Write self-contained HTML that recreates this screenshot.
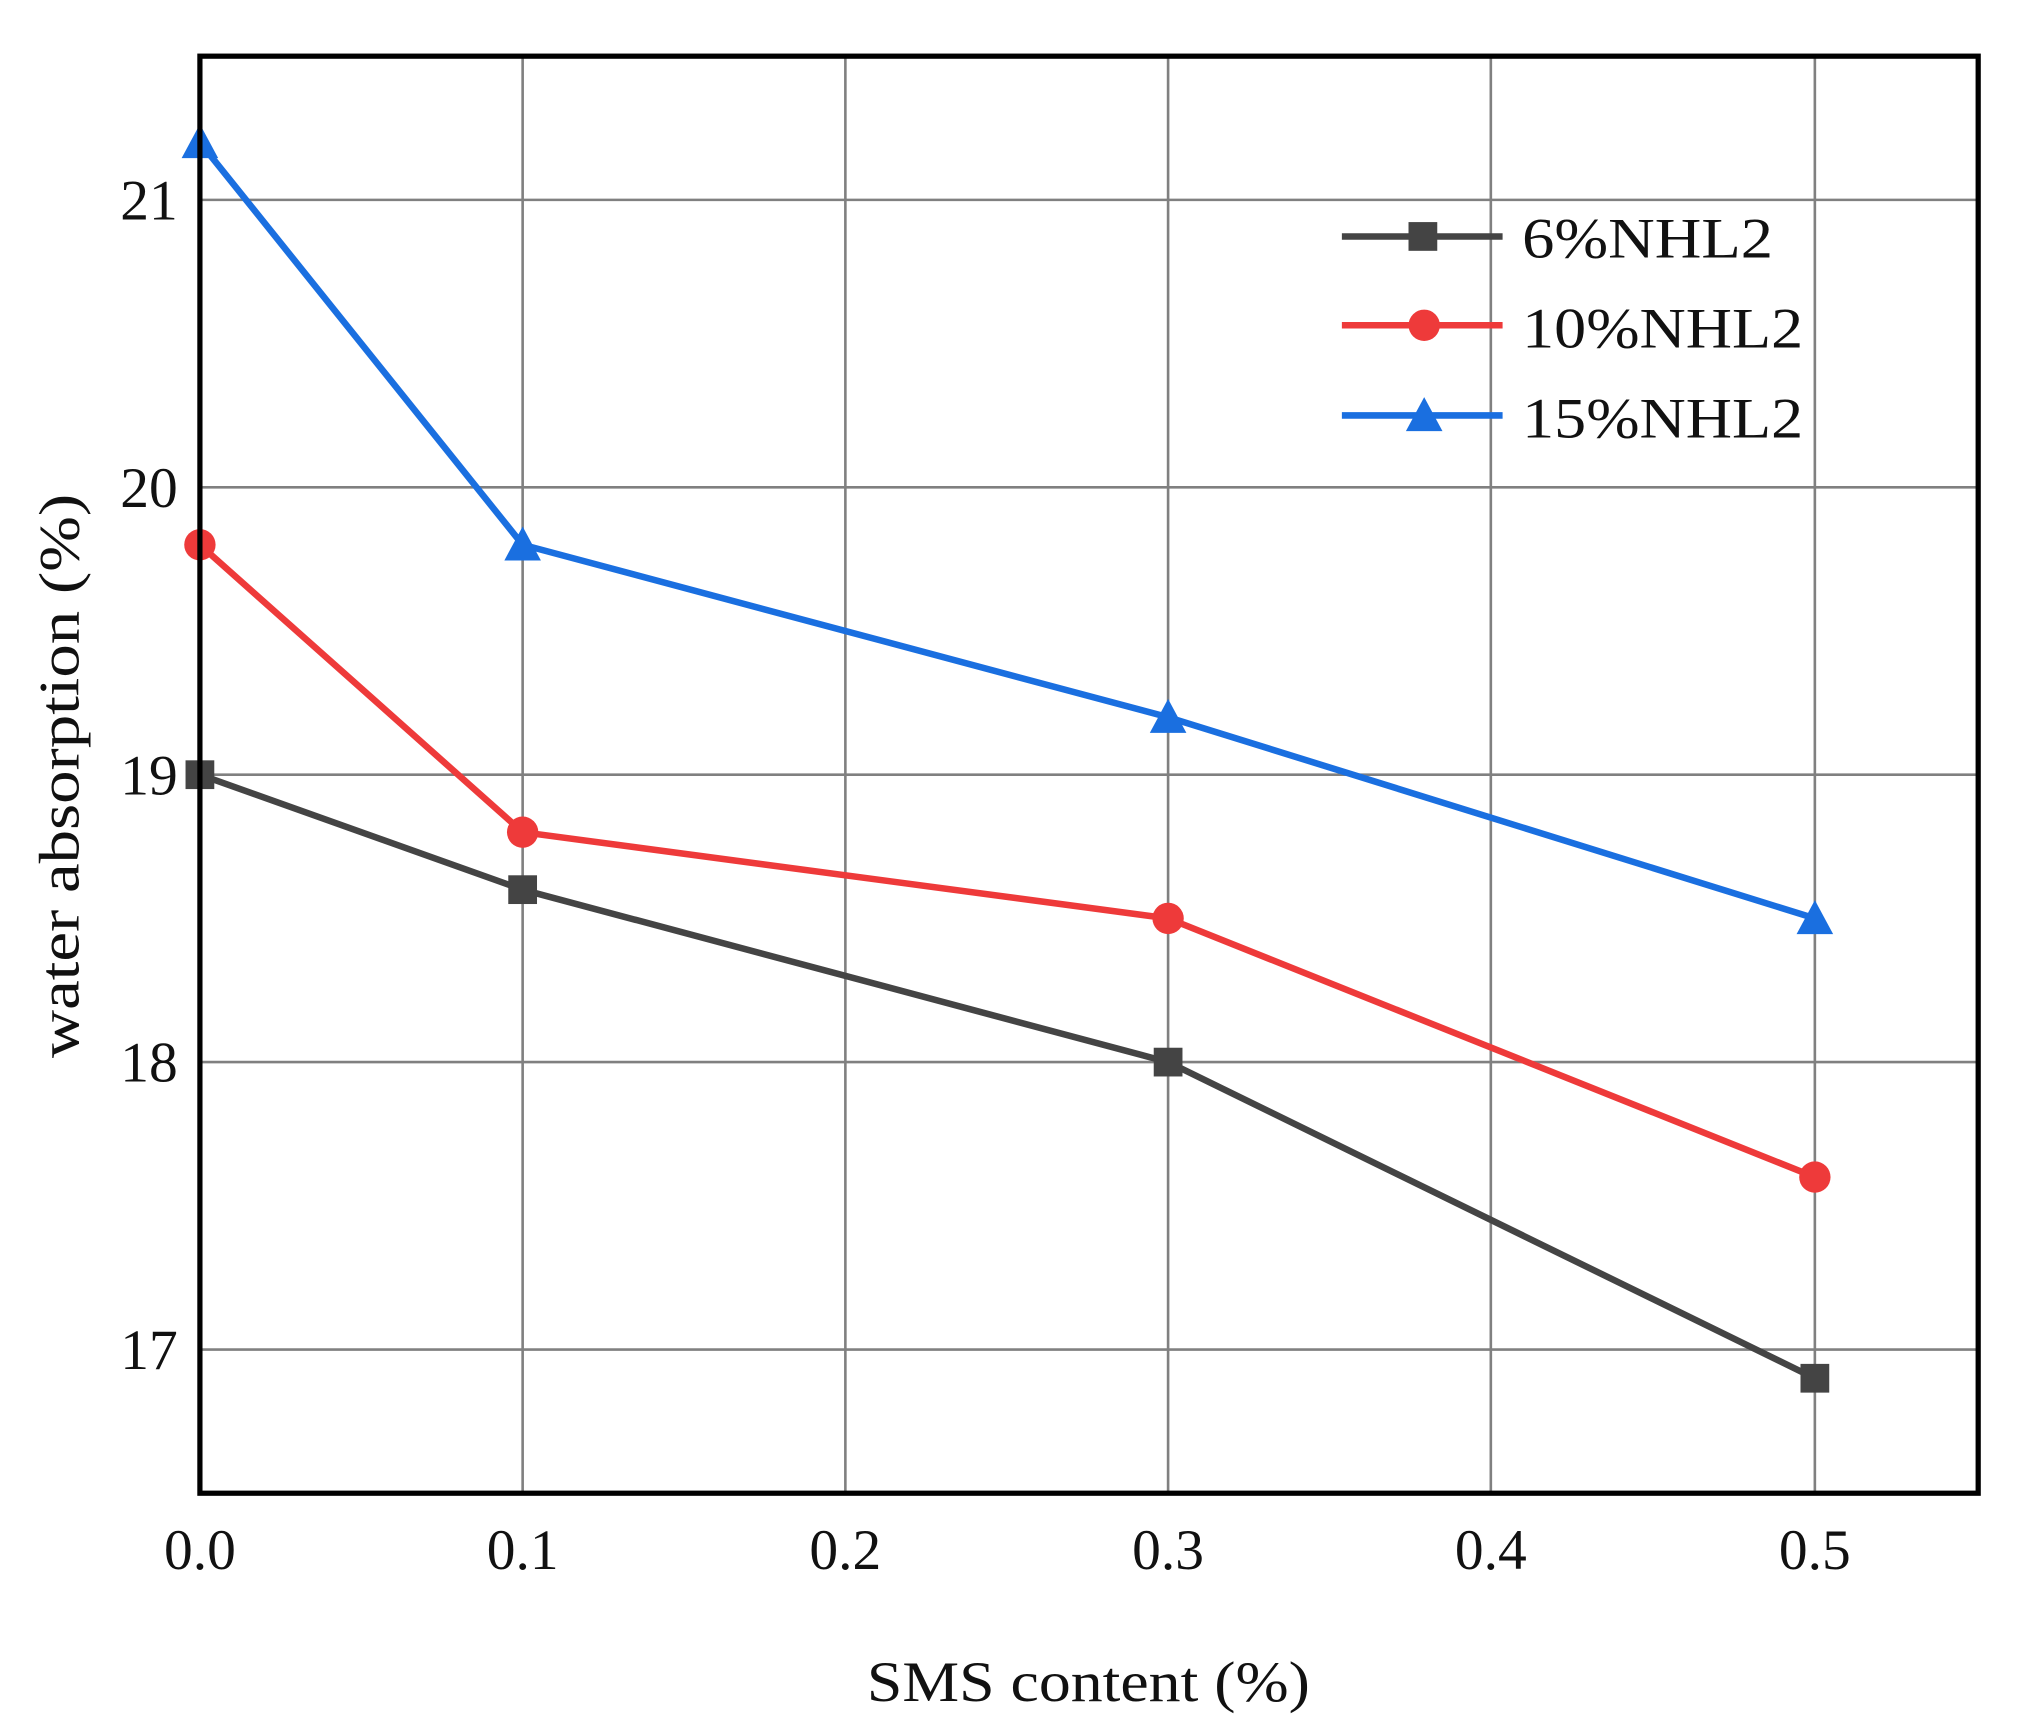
<!DOCTYPE html>
<html><head><meta charset="utf-8"><style>
html,body{margin:0;padding:0;background:#fff;}
svg{display:block;}
text{font-family:"Liberation Serif",serif;fill:#111;}
</style></head><body>
<svg width="2020" height="1714" viewBox="0 0 1546 1312" preserveAspectRatio="none" xmlns="http://www.w3.org/2000/svg">
<rect width="1546" height="1312" fill="#fff"/>
<g stroke="#808080" stroke-width="2">
<line x1="400" y1="43" x2="400" y2="1143"/>
<line x1="647" y1="43" x2="647" y2="1143"/>
<line x1="894" y1="43" x2="894" y2="1143"/>
<line x1="1141" y1="43" x2="1141" y2="1143"/>
<line x1="1389" y1="43" x2="1389" y2="1143"/>
<line x1="153" y1="153" x2="1514" y2="153"/>
<line x1="153" y1="373" x2="1514" y2="373"/>
<line x1="153" y1="593" x2="1514" y2="593"/>
<line x1="153" y1="813" x2="1514" y2="813"/>
<line x1="153" y1="1033" x2="1514" y2="1033"/>
</g>
<g fill="none" stroke-width="5" stroke-linejoin="round">
<polyline stroke="#444" points="153,593 400,681 894,813 1389,1055"/>
<polyline stroke="#ee3a3a" points="153,417 400,637 894,703 1389,901"/>
<polyline stroke="#1a6fe0" points="153,109 400,417 894,549 1389,703"/>
</g>
<g fill="#444">
<rect x="142" y="582" width="22" height="22"/><rect x="389" y="670" width="22" height="22"/>
<rect x="883" y="802" width="22" height="22"/><rect x="1378" y="1044" width="22" height="22"/>
</g>
<g fill="#ee3a3a">
<circle cx="153" cy="417" r="12"/><circle cx="400" cy="637" r="12"/>
<circle cx="894" cy="703" r="12"/><circle cx="1389" cy="901" r="12"/>
</g>
<g fill="#1a6fe0">
<polygon points="153,95 139,121 167,121"/><polygon points="400,403 386,429 414,429"/>
<polygon points="894,535 880,561 908,561"/><polygon points="1389,689 1375,715 1403,715"/>
</g>
<rect x="153" y="43" width="1361" height="1100" fill="none" stroke="#000" stroke-width="4"/>
<g stroke-width="5">
<line x1="1027" y1="181" x2="1150" y2="181" stroke="#444"/>
<line x1="1027" y1="249" x2="1150" y2="249" stroke="#ee3a3a"/>
<line x1="1027" y1="318" x2="1150" y2="318" stroke="#1a6fe0"/>
</g>
<rect x="1078" y="170" width="22" height="22" fill="#444"/>
<circle cx="1090" cy="249" r="12" fill="#ee3a3a"/>
<polygon points="1090,304 1076,330 1104,330" fill="#1a6fe0"/>
<g font-size="44">
<text x="1165" y="197" textLength="192" lengthAdjust="spacingAndGlyphs">6%NHL2</text>
<text x="1165" y="266" textLength="215" lengthAdjust="spacingAndGlyphs">10%NHL2</text>
<text x="1165" y="335" textLength="215" lengthAdjust="spacingAndGlyphs">15%NHL2</text>
</g>
<g font-size="44" text-anchor="end">
<text x="136" y="168">21</text><text x="136" y="388">20</text>
<text x="136" y="608">19</text><text x="136" y="828">18</text><text x="136" y="1048">17</text>
</g>
<g font-size="44" text-anchor="middle">
<text x="153" y="1201">0.0</text><text x="400" y="1201">0.1</text><text x="647" y="1201">0.2</text>
<text x="894" y="1201">0.3</text><text x="1141" y="1201">0.4</text><text x="1389" y="1201">0.5</text>
<text x="833" y="1302" textLength="339" lengthAdjust="spacingAndGlyphs">SMS content (%)</text>
<text transform="translate(60,594) rotate(-90)" textLength="432" lengthAdjust="spacingAndGlyphs">water absorption (%)</text>
</g>
</svg>
</body></html>
